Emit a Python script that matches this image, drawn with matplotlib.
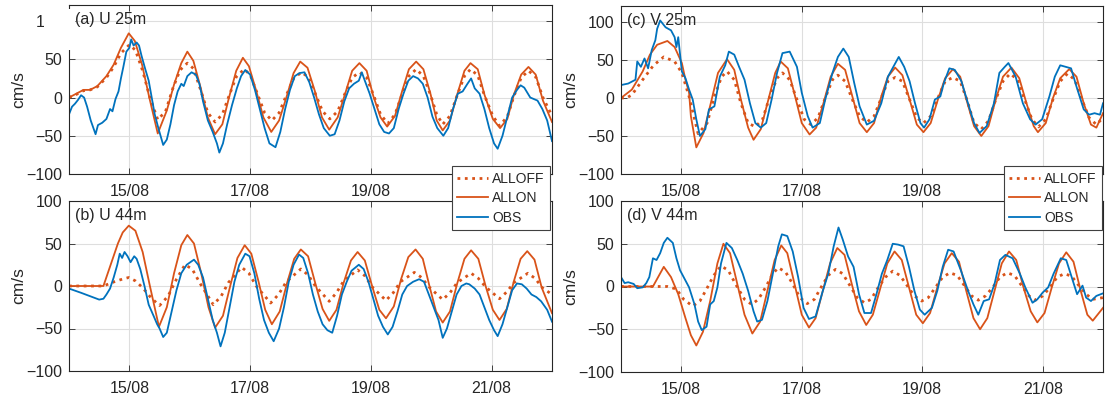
import matplotlib.pyplot as plt
from matplotlib.patches import Rectangle

plt.rcParams["font.family"] = ["Liberation Sans", "DejaVu Sans"]

ORANGE = "#D95319"
BLUE = "#0072BD"
TXT = "#262626"

# time in days of August (14.0 = 14/08 00:00), speeds in cm/s
xticks = [15, 17, 19, 21]
xlabels = ["15/08", "17/08", "19/08", "21/08"]
yticks = [-100, -50, 0, 50, 100]
series_names = ["ALLOFF", "ALLON", "OBS"]

# ---- (a) U 25m
a_on_t = [14.0, 14.12, 14.24, 14.35, 14.47, 14.62, 14.74, 14.86, 14.99, 15.09, 15.21, 15.33, 15.47,
          15.62, 15.74, 15.86, 15.96, 16.06, 16.18, 16.30, 16.42, 16.54, 16.65, 16.77, 16.88, 16.98,
          17.10, 17.22, 17.35, 17.48, 17.60, 17.72, 17.83, 17.95, 18.07, 18.19, 18.31, 18.45, 18.57,
          18.69, 18.81, 18.93, 19.04, 19.16, 19.27, 19.40, 19.52, 19.63, 19.75, 19.87, 19.99, 20.09,
          20.19, 20.31, 20.43, 20.55, 20.65, 20.77, 20.88, 21.02, 21.14, 21.26, 21.37, 21.49, 21.61,
          21.73, 21.85, 22.0]
a_on_v = [0, 5, 10, 10, 15, 28, 43, 65, 84, 74, 43, 0, -47,
          -17, 17, 45, 60, 48, 13, -26, -48, -35, 0, 35, 52, 41,
          9, -26, -45, -30, 0, 32, 47, 39, 9, -26, -42, -26, 4,
          35, 45, 35, 2, -26, -38, -24, 9, 37, 47, 37, 4, -30,
          -43, -30, 4, 35, 45, 37, 4, -28, -40, -28, 4, 30, 40,
          30, -4, -32]
a_off_t = [14.0, 14.12, 14.24, 14.35, 14.47, 14.62, 14.74, 14.86, 15.0, 15.1, 15.22, 15.34, 15.47,
           15.6, 15.72, 15.84, 15.96, 16.06, 16.18, 16.3, 16.42, 16.54, 16.65, 16.77, 16.9, 17.0,
           17.12, 17.24, 17.36, 17.48, 17.6, 17.72, 17.85, 17.96, 18.08, 18.2, 18.32, 18.45, 18.57,
           18.69, 18.81, 18.93, 19.05, 19.16, 19.28, 19.4, 19.52, 19.63, 19.75, 19.87, 19.99, 20.09,
           20.19, 20.31, 20.43, 20.55, 20.65, 20.77, 20.88, 21.02, 21.13, 21.26, 21.37, 21.49, 21.61,
           21.73, 21.85, 22.0]
a_off_v = [0, 4, 9, 10, 14, 26, 40, 58, 69, 62, 35, 0, -29,
           -18, 12, 36, 45, 38, 10, -20, -32, -22, 2, 27, 37, 30,
           5, -20, -30, -20, 3, 25, 33, 27, 5, -18, -28, -18, 5,
           26, 33, 26, 2, -22, -34, -22, 5, 28, 37, 28, 3, -22,
           -35, -24, 3, 28, 37, 29, 3, -24, -37, -25, 2, 26, 35,
           27, 0, -24]
a_obs_t = [14.0, 14.05, 14.1, 14.15, 14.2, 14.25, 14.3, 14.36, 14.44, 14.48, 14.55, 14.62, 14.68,
           14.72, 14.77, 14.82, 14.86, 14.9, 14.95, 15.0, 15.03, 15.07, 15.12, 15.16, 15.2, 15.26,
           15.32, 15.37, 15.42, 15.48, 15.56, 15.62, 15.68, 15.74, 15.8, 15.86, 15.9, 15.96, 16.03,
           16.1, 16.16, 16.22, 16.3, 16.38, 16.45, 16.49, 16.55, 16.62, 16.7, 16.78, 16.85, 16.92,
           17.0, 17.08, 17.16, 17.24, 17.32, 17.42, 17.5, 17.58, 17.66, 17.74, 17.82, 17.9, 17.98,
           18.06, 18.14, 18.22, 18.32, 18.4, 18.48, 18.56, 18.64, 18.72, 18.8, 18.85, 18.9, 18.98,
           19.06, 19.14, 19.22, 19.3, 19.38, 19.46, 19.54, 19.62, 19.7, 19.78, 19.86, 19.94, 20.02,
           20.1, 20.2, 20.28, 20.36, 20.44, 20.52, 20.6, 20.66, 20.72, 20.8, 20.88, 20.96, 21.04,
           21.1, 21.18, 21.26, 21.34, 21.42, 21.48, 21.54, 21.64, 21.76, 21.84, 21.92, 22.0]
a_obs_v = [-22, -12, -8, -3, 3, 0, -12, -30, -48, -36, -33, -28, -15,
           -18, -2, 8, 25, 40, 60, 65, 76, 68, 72, 68, 55, 38,
           22, 0, -22, -40, -62, -55, -35, -10, 8, 18, 15, 28, 33,
           30, 18, -5, -30, -45, -60, -72, -60, -35, -10, 12, 28, 36,
           30, 10, -15, -40, -60, -65, -45, -15, 10, 28, 32, 33, 20,
           0, -22, -40, -50, -48, -30, -5, 12, 18, 22, 33, 22, 5,
           -15, -35, -45, -47, -40, -15, 5, 22, 28, 25, 18, 0, -25,
           -40, -50, -40, -15, 5, 8, 18, 25, 12, 5, -15, -40, -60,
           -67, -50, -25, 0, 10, 16, 13, 0, -4, -15, -30, -57]

# ---- (b) U 44m
b_on_t = [14.0, 14.57, 14.69, 14.81, 14.89, 14.99, 15.1, 15.22, 15.34, 15.49, 15.62, 15.74, 15.86,
          15.96, 16.07, 16.19, 16.31, 16.42, 16.55, 16.67, 16.79, 16.91, 17.02, 17.14, 17.25, 17.36,
          17.49, 17.61, 17.73, 17.84, 17.96, 18.08, 18.2, 18.31, 18.43, 18.55, 18.67, 18.78, 18.9,
          19.02, 19.14, 19.25, 19.38, 19.5, 19.62, 19.74, 19.86, 19.97, 20.08, 20.19, 20.31, 20.43,
          20.55, 20.66, 20.78, 20.9, 21.02, 21.13, 21.25, 21.37, 21.48, 21.59, 21.71, 21.83, 22.0]
b_on_v = [0, 0, 25, 50, 63, 71, 65, 40, 0, -48, -25, 15, 48,
          60, 50, 15, -25, -49, -35, 0, 33, 48, 38, 5, -28, -45,
          -30, 3, 32, 43, 35, 3, -27, -41, -28, 4, 30, 40, 30,
          0, -28, -38, -24, 8, 34, 43, 32, 0, -30, -43, -30, 3,
          32, 42, 32, 0, -28, -40, -27, 6, 32, 41, 31, -2, -32]
b_off_t = [14.0, 14.57, 14.75, 14.88, 14.99, 15.1, 15.22, 15.36, 15.5, 15.64, 15.78, 15.92, 16.04,
           16.18, 16.39, 16.52, 16.64, 16.86, 16.98, 17.1, 17.34, 17.47, 17.6, 17.84, 17.96, 18.08,
           18.31, 18.43, 18.55, 18.78, 18.9, 19.02, 19.25, 19.37, 19.49, 19.72, 19.84, 19.96, 20.19,
           20.31, 20.43, 20.66, 20.78, 20.9, 21.13, 21.25, 21.37, 21.6, 21.72, 21.84, 22.0]
b_off_v = [0, 0, 5, 8, 10, 6, -2, -14, -23, -12, 8, 25, 20,
           2, -22, -12, 4, 22, 15, 0, -20, -10, 5, 20, 13, 0,
           -18, -8, 6, 19, 12, -1, -17, -8, 5, 16, 10, -1, -16,
           -8, 4, 15, 9, -1, -15, -7, 4, 15, 9, -2, -10]
b_obs_t = [14.0, 14.2, 14.35, 14.5, 14.57, 14.62, 14.68, 14.74, 14.8, 14.84, 14.88, 14.92, 14.97,
           15.02, 15.08, 15.12, 15.18, 15.25, 15.32, 15.4, 15.46, 15.5, 15.56, 15.62, 15.7, 15.78,
           15.86, 15.95, 16.07, 16.14, 16.22, 16.3, 16.38, 16.45, 16.51, 16.58, 16.66, 16.74, 16.82,
           16.92, 16.99, 17.07, 17.15, 17.23, 17.31, 17.39, 17.48, 17.56, 17.64, 17.72, 17.81, 17.88,
           17.96, 18.04, 18.12, 18.2, 18.28, 18.36, 18.44, 18.52, 18.6, 18.68, 18.8, 18.88, 18.96,
           19.04, 19.12, 19.2, 19.28, 19.36, 19.44, 19.52, 19.6, 19.7, 19.8, 19.88, 19.96, 20.04,
           20.12, 20.19, 20.26, 20.34, 20.42, 20.5, 20.58, 20.63, 20.72, 20.8, 20.88, 20.96, 21.04,
           21.1, 21.18, 21.26, 21.34, 21.42, 21.5, 21.58, 21.66, 21.74, 21.82, 21.92, 22.0]
b_obs_v = [-3, -8, -12, -16, -15, -10, -3, 10, 25, 38, 33, 40, 35,
           28, 35, 32, 20, 0, -22, -35, -45, -50, -60, -55, -30, -5,
           15, 25, 31, 25, 10, -15, -40, -55, -71, -55, -25, 5, 25,
           38, 35, 15, -15, -40, -55, -65, -50, -25, 5, 25, 37, 33,
           15, -10, -30, -45, -52, -55, -35, -10, 5, 18, 25, 20, 5,
           -15, -35, -48, -57, -48, -30, -10, 0, 5, 8, 5, -10, -25,
           -40, -61, -50, -30, -10, 0, 3, 2, -3, -10, -25, -40, -52,
           -59, -45, -25, -5, 3, 2, -3, -10, -13, -18, -28, -42]

# ---- (c) V 25m
c_on_t = [14.0, 14.18, 14.36, 14.48, 14.6, 14.77, 14.89, 15.01, 15.07, 15.13, 15.16, 15.25, 15.37,
          15.49, 15.61, 15.76, 15.88, 15.99, 16.11, 16.2, 16.32, 16.44, 16.56, 16.65, 16.77, 16.89,
          17.0, 17.13, 17.24, 17.36, 17.48, 17.6, 17.72, 17.84, 17.96, 18.08, 18.2, 18.32, 18.43,
          18.55, 18.67, 18.79, 18.91, 19.02, 19.14, 19.26, 19.38, 19.51, 19.63, 19.74, 19.86, 19.98,
          20.1, 20.22, 20.34, 20.48, 20.61, 20.73, 20.85, 20.92, 21.05, 21.17, 21.29, 21.44, 21.56,
          21.68, 21.8, 21.89, 22.0]
c_on_v = [0, 11, 35, 57, 70, 75, 67, 46, 24, 7, -24, -65, -46,
          -7, 33, 51, 37, -2, -39, -55, -41, -4, 33, 48, 39, 2,
          -33, -48, -39, -7, 28, 45, 37, 2, -33, -45, -33, 2, 28,
          40, 30, -2, -35, -45, -33, -2, 26, 38, 28, -4, -37, -50,
          -37, -2, 28, 40, 26, -7, -37, -45, -33, 0, 26, 38, 28,
          -7, -35, -39, -20]
c_off_t = [14.0, 14.09, 14.18, 14.36, 14.54, 14.71, 14.89, 15.01, 15.13, 15.28, 15.43, 15.55, 15.67,
           15.76, 15.88, 15.99, 16.11, 16.23, 16.35, 16.47, 16.59, 16.68, 16.8, 16.92, 17.04, 17.15,
           17.27, 17.39, 17.51, 17.6, 17.72, 17.84, 17.96, 18.08, 18.2, 18.32, 18.43, 18.55, 18.67,
           18.79, 18.91, 19.02, 19.14, 19.26, 19.38, 19.51, 19.63, 19.74, 19.86, 19.98, 20.1, 20.22,
           20.34, 20.46, 20.58, 20.7, 20.82, 20.93, 21.05, 21.17, 21.29, 21.41, 21.53, 21.65, 21.77,
           21.89, 22.0]
c_off_v = [0, 0, 4, 24, 43, 54, 48, 33, 2, -47, -33, 2, 28,
           35, 24, -7, -33, -38, -28, 2, 26, 33, 24, -2, -28, -35,
           -26, 0, 24, 30, 22, -2, -24, -32, -24, 0, 22, 27, 22,
           -2, -26, -33, -24, 0, 22, 27, 22, -2, -33, -41, -30, -2,
           22, 32, 24, -2, -28, -38, -28, -2, 22, 32, 24, -2, -26,
           -35, -26]
c_obs_t = [14.0, 14.12, 14.24, 14.27, 14.33, 14.39, 14.45, 14.51, 14.57, 14.6, 14.65, 14.74, 14.83,
           14.89, 14.92, 14.95, 15.01, 15.07, 15.13, 15.19, 15.25, 15.31, 15.4, 15.46, 15.55, 15.64,
           15.73, 15.79, 15.88, 15.96, 16.05, 16.14, 16.23, 16.32, 16.41, 16.5, 16.59, 16.68, 16.8,
           16.92, 17.0, 17.1, 17.18, 17.3, 17.39, 17.51, 17.6, 17.69, 17.78, 17.87, 17.96, 18.08,
           18.2, 18.32, 18.43, 18.52, 18.61, 18.7, 18.79, 18.88, 18.97, 19.03, 19.12, 19.21, 19.3,
           19.36, 19.45, 19.54, 19.65, 19.74, 19.86, 19.95, 20.07, 20.19, 20.28, 20.37, 20.43, 20.55,
           20.67, 20.79, 20.88, 20.99, 21.11, 21.2, 21.29, 21.38, 21.47, 21.56, 21.68, 21.77, 21.86,
           21.95, 22.0]
c_obs_v = [17, 19, 24, 48, 41, 52, 39, 63, 76, 91, 102, 93, 89,
           80, 67, 80, 35, 26, 11, -2, -28, -50, -41, -15, -11, 28,
           43, 61, 57, 41, 24, -7, -33, -39, -33, -2, 33, 59, 61,
           41, 7, -24, -39, -33, -2, 33, 54, 65, 54, 20, -11, -35,
           -30, -7, 28, 41, 54, 41, 22, -7, -33, -39, -28, -2, 2,
           20, 39, 37, 22, -2, -33, -46, -37, -7, 33, 41, 46, 28,
           -7, -28, -35, -28, 2, 28, 43, 41, 39, 15, -15, -22, -20,
           -22, -7]

# ---- (d) V 44m
d_on_t = [14.0, 14.53, 14.71, 14.83, 14.95, 15.07, 15.16, 15.25, 15.36, 15.48, 15.6, 15.7, 15.81,
          15.93, 16.05, 16.18, 16.31, 16.43, 16.55, 16.66, 16.76, 16.88, 17.0, 17.12, 17.23, 17.35,
          17.47, 17.59, 17.71, 17.83, 17.95, 18.07, 18.18, 18.3, 18.42, 18.54, 18.66, 18.78, 18.9,
          19.01, 19.13, 19.25, 19.37, 19.49, 19.61, 19.73, 19.85, 19.96, 20.08, 20.2, 20.32, 20.44,
          20.56, 20.68, 20.8, 20.91, 21.03, 21.15, 21.27, 21.39, 21.51, 21.63, 21.74, 21.83, 22.0]
d_on_v = [0, 0, 23, 11, -9, -37, -57, -69, -53, -17, 27, 50, 39,
          3, -33, -55, -41, -5, 31, 48, 39, 3, -33, -48, -37, -5,
          27, 45, 37, 3, -29, -45, -33, -3, 27, 41, 31, -1, -33,
          -43, -31, -1, 27, 39, 29, -5, -37, -50, -37, -5, 27, 41,
          31, -1, -29, -42, -31, -1, 27, 40, 29, -5, -33, -40, -25]
d_off_t = [14.0, 14.77, 14.92, 15.04, 15.19, 15.31, 15.42, 15.54, 15.66, 15.78, 15.9, 16.05, 16.17,
           16.28, 16.4, 16.52, 16.61, 16.73, 16.85, 16.97, 17.09, 17.21, 17.32, 17.44, 17.56, 17.68,
           17.8, 17.92, 18.04, 18.15, 18.27, 18.39, 18.51, 18.63, 18.75, 18.87, 18.99, 19.1, 19.22,
           19.34, 19.46, 19.58, 19.7, 19.82, 19.93, 20.05, 20.17, 20.29, 20.41, 20.53, 20.65, 20.77,
           20.88, 21.0, 21.12, 21.24, 21.36, 21.48, 21.6, 21.72, 21.83, 22.0]
d_off_v = [0, 0, -3, -15, -23, -17, -3, 13, 24, 19, 3, -15, -21,
           -15, -1, 15, 22, 17, 3, -13, -20, -15, -1, 13, 20, 15,
           1, -13, -19, -15, -1, 11, 18, 13, 1, -11, -17, -13, -1,
           11, 16, 13, 1, -11, -16, -11, -1, 11, 16, 13, 1, -11,
           -16, -11, -1, 11, 15, 12, 1, -9, -15, -13]
d_obs_t = [14.0, 14.06, 14.12, 14.21, 14.27, 14.36, 14.42, 14.47, 14.53, 14.59, 14.65, 14.71, 14.77,
           14.86, 14.92, 14.98, 15.07, 15.13, 15.22, 15.28, 15.34, 15.42, 15.48, 15.54, 15.6, 15.66,
           15.75, 15.84, 15.93, 16.02, 16.11, 16.2, 16.26, 16.34, 16.43, 16.52, 16.61, 16.67, 16.76,
           16.85, 16.94, 17.03, 17.12, 17.23, 17.35, 17.44, 17.53, 17.61, 17.68, 17.77, 17.86, 17.95,
           18.04, 18.15, 18.24, 18.33, 18.42, 18.51, 18.6, 18.69, 18.78, 18.87, 18.96, 19.04, 19.16,
           19.25, 19.34, 19.43, 19.52, 19.64, 19.76, 19.85, 19.93, 20.02, 20.11, 20.2, 20.29, 20.38,
           20.5, 20.62, 20.71, 20.83, 20.91, 21.0, 21.09, 21.18, 21.3, 21.39, 21.48, 21.57, 21.66,
           21.72, 21.8, 21.89, 22.0]
d_obs_v = [11, 4, 5, 3, -2, -1, 4, 11, 33, 31, 39, 51, 57,
           51, 33, 19, 7, -1, -21, -41, -51, -47, -21, -17, -1, 27,
           51, 45, 31, 15, -5, -29, -41, -39, -17, 15, 47, 61, 59,
           41, 11, -25, -38, -35, -5, 15, 47, 69, 55, 35, 23, -9,
           -31, -31, -9, 15, 31, 50, 49, 47, 23, -5, -27, -33, -25,
           -5, 23, 43, 41, 19, -5, -21, -33, -17, -15, 3, 31, 37,
           33, 15, -1, -19, -15, -7, -1, 15, 33, 31, 11, -9, 1,
           -13, -17, -11, -8]

W, H = 1112, 404
fig = plt.figure(figsize=(W / 100, H / 100), dpi=100)


def panel(rect, off, on, obs, label, ylim, top_row):
    ax = fig.add_axes([rect[0] / W, 1 - rect[3] / H, (rect[2] - rect[0]) / W, (rect[3] - rect[1]) / H])
    ax.plot(off[0], off[1], ":", color=ORANGE, lw=2.0, label=series_names[0])
    ax.plot(on[0], on[1], "-", color=ORANGE, lw=1.3, label=series_names[1])
    ax.plot(obs[0], obs[1], "-", color=BLUE, lw=1.3, label=series_names[2])
    ax.set_xlim(14.0, 22.0)
    ax.set_ylim(*ylim)
    ax.set_xticks(xticks)
    # in the top row the last date label sits under the legend
    ax.set_xticklabels(xlabels[:-1] + [""] if top_row else xlabels)
    ax.set_yticks(yticks)
    ax.grid(True, color="#dedede", lw=0.8)
    ax.tick_params(direction="in", length=4, width=0.6, top=True, right=True,
                   colors=TXT, labelsize=11.5, pad=5)
    ax.tick_params(axis="x", pad=7)
    for s in ax.spines.values():
        s.set_color(TXT)
        s.set_linewidth(0.8)
    ax.set_ylabel("cm/s", fontsize=12.5, color=TXT)
    ax.yaxis.set_label_coords(-0.088, 0.5)
    ax.text(0.013, 0.915, label, transform=ax.transAxes, fontsize=11.5, color=TXT,
            va="center", ha="left")
    return ax


ax_a = panel((69, 5, 552, 174), (a_off_t, a_off_v), (a_on_t, a_on_v), (a_obs_t, a_obs_v),
             "(a) U 25m", (-100, 121), True)
ax_b = panel((69, 201, 552, 371), (b_off_t, b_off_v), (b_on_t, b_on_v), (b_obs_t, b_obs_v),
             "(b) U 44m", (-100, 100), False)
ax_c = panel((621, 6, 1103, 174), (c_off_t, c_off_v), (c_on_t, c_on_v), (c_obs_t, c_obs_v),
             "(c) V 25m", (-100, 121), True)
ax_d = panel((621, 201, 1103, 372), (d_off_t, d_off_v), (d_on_t, d_on_v), (d_obs_t, d_obs_v),
             "(d) V 44m", (-100, 100), False)

# the title box of (a) hides the last digits of its top tick label and part of the left axis line
fig.add_artist(Rectangle((44 / W, 1 - 50 / H), 31 / W, 41 / H, transform=fig.transFigure,
                         facecolor="white", edgecolor="none", zorder=5))

handles, labels = ax_b.get_legend_handles_labels()
for x1 in (550, 1102):
    leg = fig.legend(handles, labels, loc="upper right", bbox_to_anchor=(x1 / W, 1 - 166 / H),
                     fontsize=10, frameon=True, fancybox=False, framealpha=1,
                     edgecolor="#404040", borderpad=0.4, labelspacing=0.4,
                     handlelength=2.2, handletextpad=0.3, borderaxespad=0)
    leg.get_frame().set_linewidth(0.8)
    for t in leg.get_texts():
        t.set_color(TXT)

fig.savefig("out.png", dpi=100)
